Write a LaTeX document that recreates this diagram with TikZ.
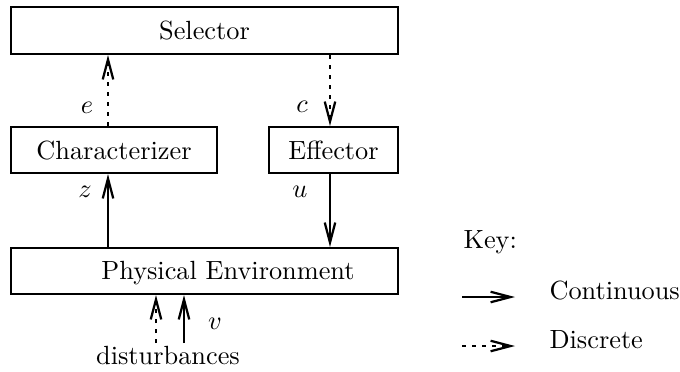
\documentclass[tikz,border=0pt]{standalone}
\usetikzlibrary{arrows.meta,fit}
\begin{document}
\begin{tikzpicture}[x=0.38pt,y=-0.38pt,
  box/.style={draw,line width=0.8pt,inner sep=0pt},
  tipstyle/.style={-{Straight Barb[length=7.6pt,width=4pt,line width=0.85pt]}},
  cont/.style={tipstyle,line width=0.85pt},
  disc/.style={tipstyle,line width=1.05pt,dash pattern=on 1.5pt off 2.3pt},
  lbl/.style={inner sep=0pt}]
\useasboundingbox (0,0) rectangle (680,371);
% blocks
\node[box,fit={(11,7) (398,54)}] (sel) {};
\node[lbl] (seltext) at (sel.center) {Selector};
\node[box,fit={(11,127) (217,173)}] (char) {};
\node[lbl] (chartext) at (char.center) {Characterizer};
\node[box,fit={(269,127) (398,173)}] (eff) {};
\node[lbl] (efftext) at (eff.center) {Effector};
\node[box,fit={(11,248) (398,294)}] (phys) {};
\node[lbl] (phystext) at (228,273) {Physical Environment};
% signals between blocks
\draw[disc] (char.north -| 108,0) -- (sel.south -| 108,0);
\draw[disc] (sel.south -| 330,0) -- (eff.north -| 330,0);
\draw[cont] (phys.north -| 108,0) -- (char.south -| 108,0);
\draw[cont] (eff.south -| 330,0) -- (phys.north -| 330,0);
\node[lbl] (e) at (87,108) {$e$};
\node[lbl] (c) at (302,107) {$c$};
\node[lbl] (z) at (85,192) {$z$};
\node[lbl] (u) at (300,192) {$u$};
% disturbances
\node[lbl] (dist) at (168,355) {disturbances};
\draw[disc] (dist.north -| 156,0) ++(0,-2) -- (phys.south -| 156,0);
\draw[cont] (dist.north -| 184,0) ++(0,-2) -- (phys.south -| 184,0);
\node[lbl] (v) at (215,324) {$v$};
% key
\node[lbl,anchor=west] (key) at (463,242) {Key:};
\coordinate (ca) at (462,297);
\coordinate (cb) at (515,297);
\coordinate (da) at (462,346);
\coordinate (db) at (515,346);
\draw[cont] (ca) -- (cb);
\draw[disc] (da) -- (db);
\node[lbl,anchor=west] (conttext) at (549,290) {Continuous};
\node[lbl,anchor=west] (disctext) at (549,340) {Discrete};
\end{tikzpicture}
\end{document}
